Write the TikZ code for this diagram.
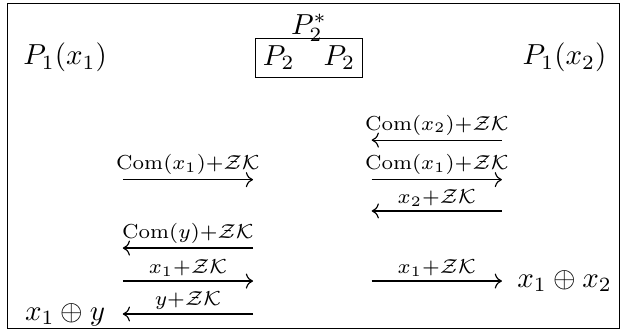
\documentclass[tikz,border=0pt]{standalone}
\usepackage{amsmath,amssymb}
\usetikzlibrary{arrows.meta,positioning}

\begin{document}
\begin{tikzpicture}[
    party/.style={inner sep=0pt, font=\normalsize},
    msg/.style={-{Computer Modern Rightarrow}, line width=0.4pt},
    lbl/.style={above, inner sep=1.5pt, font=\scriptsize},
]
\useasboundingbox (0,0) rectangle (7.62,-4.05);
\draw[line width=0.4pt] (0.09,-0.04) rectangle (7.52,-3.99);

\node[party] (pone) at (0.79,-0.70) {$P_1(x_1)$};
\node[party, draw, inner sep=2.6pt] (ptwo) at (3.75,-0.70) {$P_2\quad P_2$};
\node[party, above=-1.5pt of ptwo.north] (pstar) {$P_2^*$};
\node[party] (pthree) at (6.85,-0.70) {$P_1(x_2)$};

% left column
\coordinate (la1) at (1.49,-2.18); \coordinate (lb1) at (3.07,-2.18);
\coordinate (la2) at (1.49,-3.01); \coordinate (lb2) at (3.07,-3.01);
\coordinate (la3) at (1.49,-3.41); \coordinate (lb3) at (3.07,-3.41);
\coordinate (la4) at (1.49,-3.81); \coordinate (lb4) at (3.07,-3.81);
% right column
\coordinate (ra1) at (4.51,-1.70); \coordinate (rb1) at (6.09,-1.70);
\coordinate (ra2) at (4.51,-2.18); \coordinate (rb2) at (6.09,-2.18);
\coordinate (ra3) at (4.51,-2.56); \coordinate (rb3) at (6.09,-2.56);
\coordinate (ra4) at (4.51,-3.41); \coordinate (rb4) at (6.09,-3.41);

\node[party] (resy) at (0.79,-3.82) {$x_1 \oplus y$};
\node[party, right=0pt] (resx) at (6.27,-3.41) {$x_1 \oplus x_2$};

\draw[msg] (la1) -- node[lbl] (ml1) {$\mathrm{Com}(x_1){+}\mathcal{Z}\mathcal{K}$} (lb1);
\draw[msg] (lb2) -- node[lbl] (ml2) {$\mathrm{Com}(y){+}\mathcal{Z}\mathcal{K}$} (la2);
\draw[msg] (la3) -- node[lbl] (ml3) {$x_1{+}\mathcal{Z}\mathcal{K}$} (lb3);
\draw[msg] (lb4) -- node[lbl] (ml4) {$y{+}\mathcal{Z}\mathcal{K}$} (la4);

\draw[msg] (rb1) -- node[lbl] (mr1) {$\mathrm{Com}(x_2){+}\mathcal{Z}\mathcal{K}$} (ra1);
\draw[msg] (ra2) -- node[lbl] (mr2) {$\mathrm{Com}(x_1){+}\mathcal{Z}\mathcal{K}$} (rb2);
\draw[msg] (rb3) -- node[lbl] (mr3) {$x_2{+}\mathcal{Z}\mathcal{K}$} (ra3);
\draw[msg] (ra4) -- node[lbl] (mr4) {$x_1{+}\mathcal{Z}\mathcal{K}$} (rb4);
\end{tikzpicture}
\end{document}
